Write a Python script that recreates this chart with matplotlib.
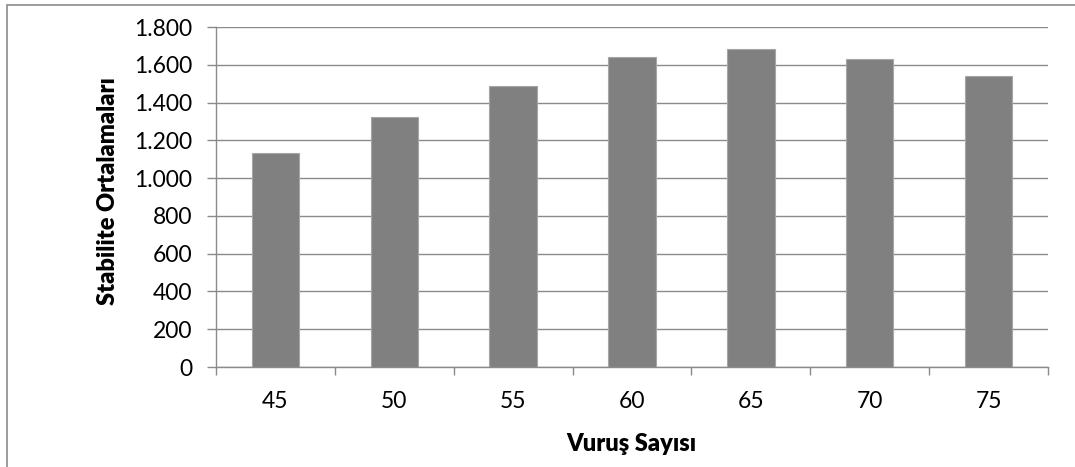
import matplotlib
matplotlib.use("Agg")
import matplotlib.pyplot as plt
from matplotlib.patches import Rectangle
from matplotlib.ticker import FuncFormatter, FixedLocator

# Marshall stabilite ortalamalari, vurus sayisina gore
vurus = ["45", "50", "55", "60", "65", "70", "75"]
stabilite = [1132, 1324, 1486, 1640, 1686, 1630, 1540]
yticks = [0, 200, 400, 600, 800, 1000, 1200, 1400, 1600, 1800]

plt.rcParams['font.family'] = ['Lato', 'DejaVu Sans']
plt.rcParams['font.size'] = 16.5

gray_line = '#8a8a8a'
W, H = 1075, 467

fig = plt.figure(figsize=(W / 100, H / 100), dpi=100)
ax = fig.add_axes([216/W, 1 - 367/H, 832/W, 340/H])

x = list(range(len(vurus)))
ax.bar(x, stabilite, width=0.40, color='#808080', edgecolor='#a6a6a6',
       linewidth=0.8, zorder=3)

ax.set_xlim(-0.5, len(vurus) - 0.5)
ax.set_ylim(0, 1800)
ax.set_yticks(yticks)
ax.yaxis.set_major_formatter(FuncFormatter(lambda v, p: f"{int(v):,}".replace(",", ".")))
ax.set_xticks(x)
ax.set_xticklabels(vurus)
ax.xaxis.set_minor_locator(FixedLocator([i - 0.5 for i in range(len(vurus) + 1)]))

ax.tick_params(axis='x', which='major', length=0, pad=17.5)
ax.tick_params(axis='x', which='minor', length=6, width=1, color=gray_line, direction='out')
ax.tick_params(axis='y', length=6.5, width=1, color=gray_line, pad=10.5)

ax.grid(axis='y', color=gray_line, linewidth=1, zorder=0)
for side in ['top', 'right']:
    ax.spines[side].set_visible(False)
for side in ['left', 'bottom']:
    ax.spines[side].set_color(gray_line)
    ax.spines[side].set_linewidth(1)

# axis titles
fig.text(631/W, 1 - 444/H, 'Vuruş Sayısı', fontsize=17, fontweight='heavy',
         ha='center', va='center')
fig.text(108/W, 1 - 191/H, 'Stabilite Ortalamaları', fontsize=17,
         fontweight='heavy', rotation=90, ha='center', va='center')

# chart frame
fig.patches.append(Rectangle((7/W, -0.2), 1.2, 1.2 - 4.5/H,
                             transform=fig.transFigure, fill=False,
                             edgecolor=gray_line, linewidth=1.2))

fig.savefig('out.png', dpi=100)
